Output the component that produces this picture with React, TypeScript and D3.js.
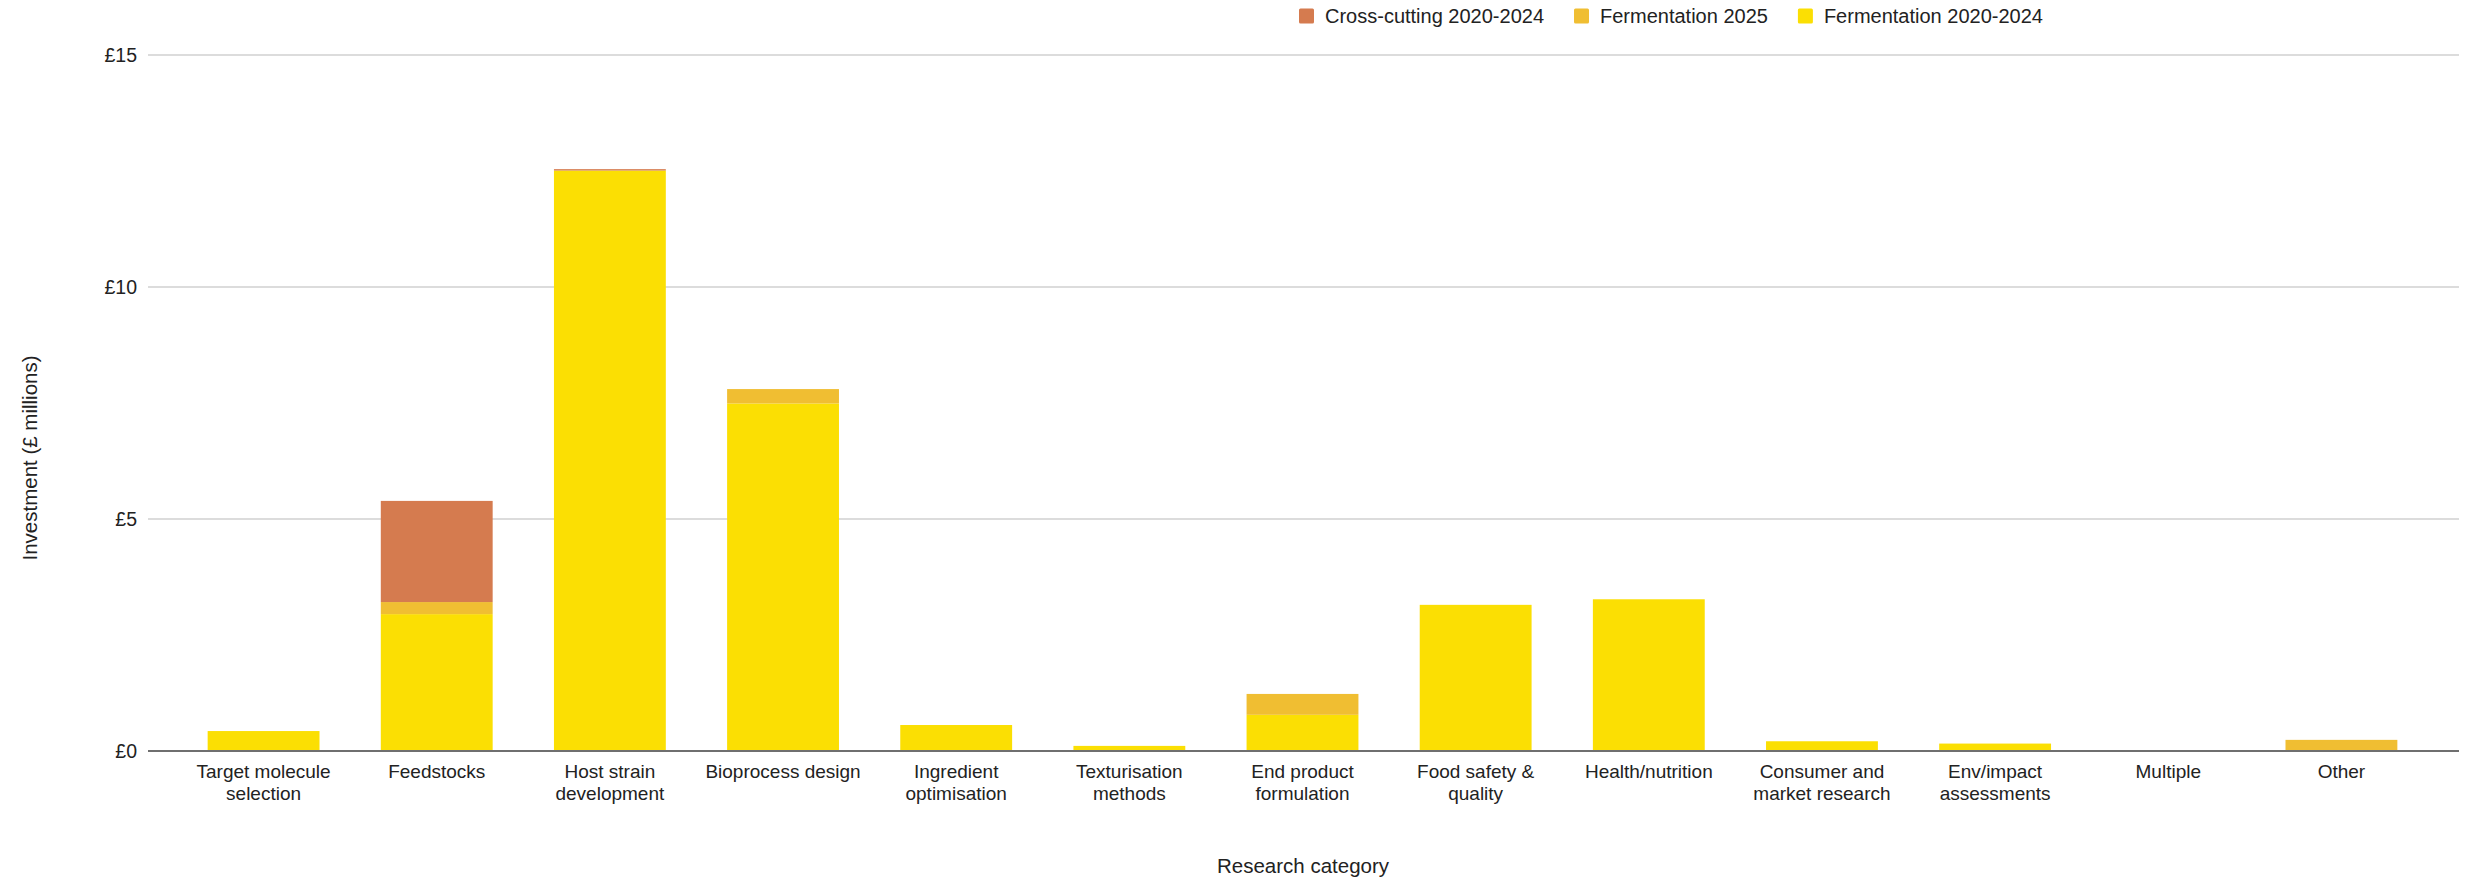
import React from "react";
import * as d3 from "d3";

// Research categories (each entry is the list of label lines under the axis)
const categories: string[] = [
  "Target molecule selection",
  "Feedstocks",
  "Host strain development",
  "Bioprocess design",
  "Ingredient optimisation",
  "Texturisation methods",
  "End product formulation",
  "Food safety & quality",
  "Health/nutrition",
  "Consumer and market research",
  "Env/impact assessments",
  "Multiple",
  "Other",
];

const categoryLines: string[][] = [
  ["Target molecule", "selection"],
  ["Feedstocks"],
  ["Host strain", "development"],
  ["Bioprocess design"],
  ["Ingredient", "optimisation"],
  ["Texturisation", "methods"],
  ["End product", "formulation"],
  ["Food safety &", "quality"],
  ["Health/nutrition"],
  ["Consumer and", "market research"],
  ["Env/impact", "assessments"],
  ["Multiple"],
  ["Other"],
];

// Investment, £ millions
const fermentation2020_2024: number[] = [0.43, 2.95, 12.51, 7.49, 0.56, 0.11, 0.78, 3.15, 3.27, 0.21, 0.16, 0, 0];
const fermentation2025: number[] = [0, 0.26, 0, 0.31, 0, 0, 0.45, 0, 0, 0, 0, 0, 0.24];
const crossCutting2020_2024: number[] = [0, 2.18, 0.03, 0, 0, 0, 0, 0, 0, 0, 0, 0, 0];

const yTicks: number[] = [0, 5, 10, 15];

// Stack order: bottom to top
const seriesKeys = ["ferm2020", "ferm2025", "cross"] as const;
const seriesNames: Record<string, string> = {
  ferm2020: "Fermentation 2020-2024",
  ferm2025: "Fermentation 2025",
  cross: "Cross-cutting 2020-2024",
};
const seriesColors: Record<string, string> = {
  ferm2020: "#FBDF03",
  ferm2025: "#F0BE32",
  cross: "#D57B4F",
};
// Legend order, left to right
const legendOrder = ["cross", "ferm2025", "ferm2020"];

const W = 2468;
const H = 879;
const FONT = "'Liberation Sans', Arial, Helvetica, sans-serif";

function textWidth(s: string, size: number): number {
  const c = document.createElement("canvas").getContext("2d");
  if (!c) return s.length * size * 0.5;
  c.font = `${size}px ${FONT}`;
  return c.measureText(s).width;
}

export default function App() {
  const rows = categories.map((c, i) => ({
    category: c,
    ferm2020: fermentation2020_2024[i],
    ferm2025: fermentation2025[i],
    cross: crossCutting2020_2024[i],
  }));

  const stack = d3.stack<any>().keys(seriesKeys as unknown as string[]);
  const layers = stack(rows);

  const gridLeft = 148;
  const gridRight = 2459;
  const x = d3
    .scaleBand<string>()
    .domain(categories)
    .range([177, 2428])
    .paddingInner(0.354)
    .paddingOuter(0.177);
  const y = d3.scaleLinear().domain([0, 15]).range([751, 55]);

  // legend layout
  const legendFont = 20;
  let lx = 1299;
  const legendItems = legendOrder.map((k) => {
    const item = { key: k, x: lx };
    lx += 15 + 11 + textWidth(seriesNames[k], legendFont) + 30;
    return item;
  });

  return (
    <svg
      width={W}
      height={H}
      style={{ position: "absolute", left: 0, top: 0, background: "#fff" }}
      fontFamily={FONT}
    >
      {/* gridlines */}
      {yTicks
        .filter((t) => t !== 0)
        .map((t) => (
          <line key={t} x1={gridLeft} x2={gridRight} y1={y(t)} y2={y(t)} stroke="#d0d0d0" strokeWidth={1.5} />
        ))}
      {/* y tick labels */}
      {yTicks.map((t) => (
        <text key={t} x={137} y={y(t)} dy="0.35em" textAnchor="end" fontSize={19.5} fill="#222">
          £{t}
        </text>
      ))}

      {/* stacked bars */}
      {layers.map((layer) => (
        <g key={layer.key} fill={seriesColors[layer.key]}>
          {layer.map((d, i) => {
            const h = y(d[0]) - y(d[1]);
            if (h <= 0) return null;
            return (
              <rect
                key={i}
                x={x(categories[i])}
                y={y(d[1])}
                width={x.bandwidth()}
                height={h}
              />
            );
          })}
        </g>
      ))}

      {/* baseline */}
      <line x1={gridLeft} x2={gridRight} y1={y(0)} y2={y(0)} stroke="#6f6f6f" strokeWidth={2} />

      {/* category labels */}
      {categoryLines.map((lines, i) => (
        <text
          key={i}
          x={(x(categories[i]) as number) + x.bandwidth() / 2}
          y={778}
          textAnchor="middle"
          fontSize={19}
          fill="#222"
        >
          {lines.map((ln, j) => (
            <tspan key={j} x={(x(categories[i]) as number) + x.bandwidth() / 2} dy={j === 0 ? 0 : 21.5}>
              {ln}
            </tspan>
          ))}
        </text>
      ))}

      {/* axis titles */}
      <text x={1303} y={873} textAnchor="middle" fontSize={20.5} fill="#222">
        Research category
      </text>
      <text
        transform={`translate(37,458) rotate(-90)`}
        textAnchor="middle"
        fontSize={20.5}
        fill="#222"
      >
        Investment (£ millions)
      </text>

      {/* legend */}
      {legendItems.map((it) => (
        <g key={it.key}>
          <rect x={it.x} y={8.5} width={15} height={15} rx={1.5} fill={seriesColors[it.key]} />
          <text x={it.x + 26} y={16} dy="0.35em" fontSize={legendFont} fill="#222">
            {seriesNames[it.key]}
          </text>
        </g>
      ))}
    </svg>
  );
}
